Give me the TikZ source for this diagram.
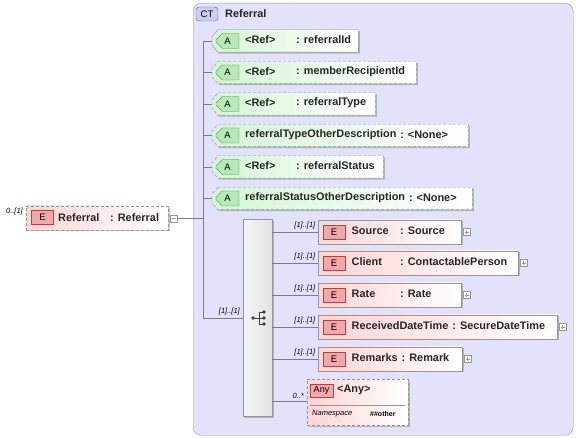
\documentclass[tikz,border=0pt]{standalone}
\usepackage{fontspec}
\setmainfont{Liberation Sans}
\usetikzlibrary{shapes.misc,shadows,positioning}

\definecolor{ctfill}{RGB}{226,226,250}
\definecolor{ctbadge}{RGB}{204,204,242}
\definecolor{ctline}{RGB}{96,96,160}
\definecolor{elfill}{RGB}{255,212,212}
\definecolor{elbadge}{RGB}{242,168,168}
\definecolor{elline}{RGB}{170,70,70}
\definecolor{atfill}{RGB}{212,246,212}
\definecolor{atbadge}{RGB}{184,232,184}
\definecolor{atline}{RGB}{70,140,70}
\definecolor{boxline}{RGB}{150,150,150}
\definecolor{wire}{RGB}{125,125,125}

\tikzset{
  boxshadow/.style={drop shadow={shadow xshift=1.5pt,shadow yshift=-1.5pt,fill=black,opacity=0.22}},
  optional/.style={dash pattern=on 3pt off 2pt},
  required/.style={solid},
  elembox/.style={draw=boxline, left color=elfill, right color=white, minimum height=24pt, inner sep=0pt, anchor=west, boxshadow},
  attrslot/.style={minimum height=22pt, inner sep=0pt, anchor=west},
  attrshape/.style={draw=boxline, left color=atfill, right color=white, boxshadow},
  ebadge/.style={draw=elline, fill=elbadge, minimum width=22pt, minimum height=14pt, inner sep=0pt, font=\fontsize{9.5}{10}\selectfont},
  abadge/.style={chamfered rectangle, chamfered rectangle corners={north west,south west}, chamfered rectangle xsep=4pt,
    draw=atline, fill=atbadge, minimum width=23pt, minimum height=15pt, inner sep=0pt, font=\fontsize{9.5}{10}\selectfont},
  lbl/.style={font=\bfseries\fontsize{10.9}{13}\selectfont, text=black!85, inner sep=0pt, anchor=west},
  occurs/.style={font=\itshape\fontsize{7.5}{8}\selectfont, inner sep=1pt, anchor=south east},
  wire/.style={draw=wire, line width=0.6pt},
  plusbox/.style={draw=boxline, fill=white, minimum size=7pt, inner sep=0pt, anchor=west,
    path picture={\draw[boxline] ([xshift=1.5pt]path picture bounding box.west) -- ([xshift=-1.5pt]path picture bounding box.east);
                  \draw[boxline] ([yshift=-1.5pt]path picture bounding box.north) -- ([yshift=1.5pt]path picture bounding box.south);}},
  minusbox/.style={draw=boxline, fill=white, minimum size=7pt, inner sep=0pt, anchor=west,
    path picture={\draw[boxline] ([xshift=1.5pt]path picture bounding box.west) -- ([xshift=-1.5pt]path picture bounding box.east);}}
}

\begin{document}
\begin{tikzpicture}[x=1pt,y=-1pt]
  \useasboundingbox (0,0) rectangle (576,438);

  % complex type frame
  \node[draw=boxline, fill=ctfill, rounded corners=8pt, minimum width=380pt, minimum height=432pt,
        anchor=north west, inner sep=0pt] (ct) at (193,3) {};
  \node[draw=ctline, fill=ctbadge, rounded corners=3pt, minimum width=22pt, minimum height=14pt,
        inner sep=0pt, font=\fontsize{9.5}{10}\selectfont] (ctbadge) at (207,14) {CT};
  \node[lbl] (ctname) at (225,13.5) {Referral};

  % root element
  \node[elembox, optional, minimum width=142pt] (root) at (26,218) {};
  \node[ebadge] (rootbadge) at (42.5,217.5) {E};
  \node[lbl] (rootname) at (58,218) {Referral};
  \node[lbl] (roottype) at (110,218) {: Referral};
  \node[minusbox] (rootminus) at (170,218.5) {};
  \node[occurs, anchor=east] (rootocc) at (24,212) {0..[1]};

  % trunk of the attribute tree
  \coordinate (trunk) at (203,218.5);
  \draw[wire] (rootminus.east) -- (trunk);

  % attributes (type x = 0: right after the name)
  \foreach \i/\y/\w/\nm/\tp/\tx/\st in {
      1/41/146/{<Ref>}/{: referralId}/296/required,
      2/72.5/204/{<Ref>}/{: memberRecipientId}/296/optional,
      3/104/163/{<Ref>}/{: referralType}/296/optional,
      4/135.5/256/{referralTypeOtherDescription}/{: <None>}/0/optional,
      5/167/171/{<Ref>}/{: referralStatus}/296/optional,
      6/198.5/260/{referralStatusOtherDescription}/{: <None>}/0/optional} {
    \node[attrslot, minimum width=\w pt] (a\i) at (212,\y) {};
    \path[attrshape, \st] ([xshift=6pt]a\i.north west) -- (a\i.north east) -- (a\i.south east)
      -- ([xshift=6pt]a\i.south west) -- ([yshift=7pt]a\i.south west) -- ([yshift=-7pt]a\i.north west) -- cycle;
    \node[abadge] (a\i badge) at (227.5,\y) {A};
    \node[lbl] (a\i name) at (245,\y-1) {\nm};
    \ifnum\tx=0
      \node[lbl, right=3.5pt of a\i name] (a\i type) {\tp};
    \else
      \node[lbl] (a\i type) at (\tx,\y-1) {\tp};
    \fi
    \draw[wire] (trunk |- a\i.west) -- (a\i.west);
  }

  % sequence compositor
  \node[draw=boxline, left color=gray!8, right color=gray!22, minimum width=29pt, minimum height=197pt,
        anchor=north west, inner sep=0pt, boxshadow] (seq) at (243,219) {};
  \coordinate (trunkend) at (203,318);
  \draw[wire] (trunk |- a1.west) -- (trunkend);
  \draw[wire] (trunkend) -- (trunkend -| seq.west);
  \node[occurs] (seqocc) at (241,316.5) {[1]..[1]};
  % sequence symbol
  \fill[black!75] (253,318) circle (1.8pt) (264,312) circle (1.8pt) (264,318) circle (1.8pt) (264,324) circle (1.8pt);
  \draw[black!75, line width=0.8pt] (253,318) -- (259,318) (259,312) -- (259,324) (259,312) -- (264,312) (259,318) -- (264,318) (259,324) -- (264,324);

  % child elements (type x = 0: right after the name)
  \foreach \i/\y/\w/\nm/\tp/\tx in {
      1/232/143/Source/{: Source}/400,
      2/263/200/Client/{: ContactablePerson}/400,
      3/295/143/Rate/{: Rate}/400,
      4/327/239/ReceivedDateTime/{: SecureDateTime}/0,
      5/359/144/Remarks/{: Remark}/0} {
    \node[elembox, minimum width=\w pt] (e\i) at (318,\y) {};
    \node[ebadge] (e\i badge) at (334,\y) {E};
    \node[lbl] (e\i name) at (351.5,\y-1) {\nm};
    \ifnum\tx=0
      \node[lbl, right=3.5pt of e\i name] (e\i type) {\tp};
    \else
      \node[lbl] (e\i type) at (\tx,\y-1) {\tp};
    \fi
    \node[plusbox, right=1.5pt of e\i.east] (e\i plus) {};
    \draw[wire] (seq.east |- e\i.west) -- (e\i.west);
    \node[occurs] (e\i occ) at (316.5,\y-1.5) {[1]..[1]};
  }

  % any element
  \node[draw=boxline, optional, left color=elfill, right color=white, minimum width=101pt, minimum height=46pt,
        anchor=north west, inner sep=0pt, boxshadow] (any) at (307,379) {};
  \node[draw=elline, fill=elbadge, minimum width=23pt, minimum height=13pt, inner sep=0pt,
        font=\fontsize{9}{10}\selectfont] (anybadge) at (321.5,390.5) {Any};
  \node[lbl] (anyname) at (337,390) {<Any>};
  \draw[boxline] (310,405) -- (405,405);
  \node[font=\itshape\fontsize{7.5}{8}\selectfont, inner sep=0pt, anchor=west] (anyns) at (312,414) {Namespace};
  \node[font=\bfseries\fontsize{7}{8}\selectfont, inner sep=0pt, anchor=west] (anyval) at (370,414) {\#\#other};
  \coordinate (anyin) at (any.west |- 0,401);
  \draw[wire] (seq.east |- anyin) -- (anyin);
  \node[occurs] (anyocc) at (305,399.5) {0..*};
\end{tikzpicture}
\end{document}
